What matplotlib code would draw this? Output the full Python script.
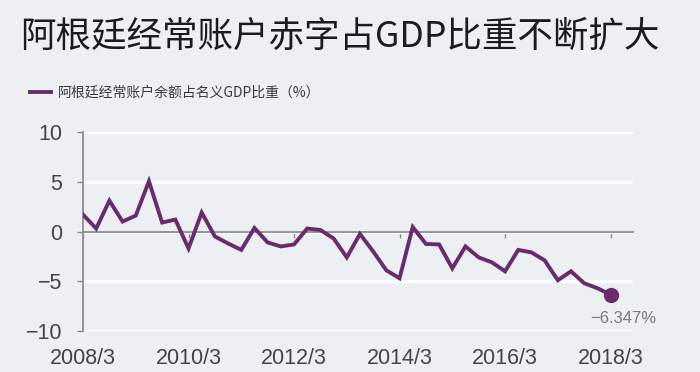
import matplotlib
matplotlib.use('Agg')
import matplotlib.pyplot as plt
import numpy as np

# Argentina current account balance, % of nominal GDP, quarterly 2008Q1 - 2018Q1
values = [1.7, 0.3, 3.1, 1.0,
          1.6, 5.05, 0.9, 1.2,
          -1.7, 1.9, -0.5, -1.2,
          -1.85, 0.35, -1.1, -1.5,
          -1.3, 0.3, 0.15, -0.7,
          -2.6, -0.25, -2.0, -3.9,
          -4.7, 0.45, -1.25, -1.3,
          -3.7, -1.5, -2.6, -3.1,
          -4.0, -1.85, -2.1, -2.9,
          -4.9, -4.0, -5.2, -5.7,
          -6.347]
tick_labels = ['2008/3', '2010/3', '2012/3', '2014/3', '2016/3', '2018/3']
y_ticks = [10, 5, 0, -5, -10]

title = '阿根廷经常账户赤字占GDP比重不断扩大'
series_name = '阿根廷经常账户余额占名义GDP比重（%）'

cjk = ['Noto Sans CJK SC', 'DejaVu Sans']
num_font = 'Liberation Sans'
bg = '#edf0f3'
purple = '#6a2a6e'
axis_grey = '#8a8c90'

fig = plt.figure(figsize=(7, 3.72), dpi=100, facecolor=bg)
ax = fig.add_axes([83 / 700, 41 / 372, 550 / 700, 199 / 372], facecolor=bg)

x = np.arange(len(values))
ax.plot(x, values, color=purple, lw=2.8, solid_joinstyle='miter', zorder=4,
        label=series_name)
ax.plot(x[-1], values[-1], 'o', color=purple, ms=10, zorder=5)

# white grid lines, grey zero line that carries the x ticks
for s in ['top', 'right']:
    ax.spines[s].set_visible(False)
ax.spines['bottom'].set_position(('data', 0))
ax.spines['bottom'].set_color(axis_grey)
ax.spines['bottom'].set_linewidth(1.3)
ax.spines['left'].set_color(axis_grey)
ax.spines['left'].set_linewidth(1.3)
ax.yaxis.grid(True, color='white', lw=2.2)
ax.set_axisbelow(True)

ax.set_xlim(0, 41.7)
ax.set_ylim(-10, 10)
ax.set_yticks(y_ticks)
ax.set_yticklabels([str(v).replace('-', '\u2212') for v in y_ticks],
                   fontfamily=num_font, fontsize=15.5, color='#444444')
ax.set_xticks(range(0, len(values), 8))
ax.set_xticklabels(tick_labels, fontfamily=num_font, fontsize=15.5, color='#444444')
ax.tick_params(axis='x', direction='out', length=4, width=1, color=axis_grey, pad=80)
ax.tick_params(axis='y', direction='out', length=4, width=1, color=axis_grey, pad=11)

ax.annotate(f'{values[-1]:.3f}%'.replace('-', '\u2212'), (x[-1], values[-1]),
            xytext=(9, -17), textcoords='offset points', ha='center', va='center',
            fontfamily=num_font, fontsize=12, color='#7a7a80')

fig.text(20 / 700, 1 - 37 / 372, title, fontfamily=cjk, fontsize=25.6,
         fontweight='light', color='#1c1c1c', ha='left', va='center')

fig.legend(loc='center left', bbox_to_anchor=(30 / 700, 1 - 93 / 372),
           frameon=False, borderpad=0, borderaxespad=0, handlelength=1.5,
           handletextpad=0.5, prop={'family': cjk, 'size': 10},
           labelcolor='#3a3a3a')

fig.savefig('out.png', dpi=100, facecolor=bg)
